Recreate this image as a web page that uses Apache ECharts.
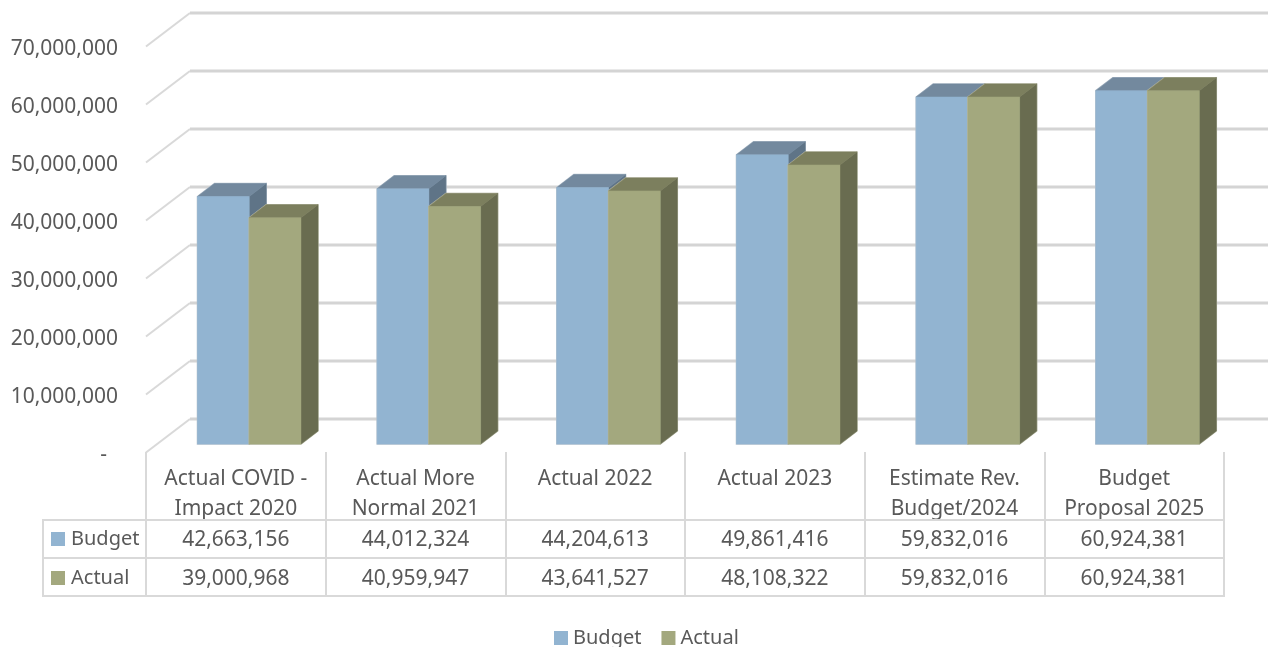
<!DOCTYPE html>
<html>
<head>
<meta charset="utf-8">
<style>html,body{margin:0;padding:0;background:#fff}#c{width:1268px;height:647px}</style>
<script src="https://cdn.jsdelivr.net/npm/echarts@6/dist/echarts.min.js"></script>
</head>
<body>
<div id="c"></div>
<script>
const categories = ['Actual COVID -\nImpact 2020', 'Actual More\nNormal 2021', 'Actual 2022', 'Actual 2023', 'Estimate Rev.\nBudget/2024', 'Budget\nProposal 2025'];
const budget = [42663156, 44012324, 44204613, 49861416, 59832016, 60924381];
const actual = [39000968, 40959947, 43641527, 48108322, 59832016, 60924381];
const yTicks = [0, 10000000, 20000000, 30000000, 40000000, 50000000, 60000000, 70000000];

const FONT = '"Noto Sans", sans-serif';
const TEXT = '#595959';
const LINE = '#d9d9d9';
const FS = 21;
const FS_KEY = 20;
const fmt = v => v.toLocaleString('en-US');

const rowY = { Budget: 539, Actual: 578 };
const looks = {
  Budget: { front: '#92b4d1', top: '#73899e', side: '#5f7487', edge: '#b4c1cd', from: -1 },
  Actual: { front: '#a3a87e', top: '#7c7f5e', side: '#696c50', edge: '#b6b8a4', from: 0 }
};

function barSeries(name, values) {
  const k = looks[name];
  return {
    name, type: 'custom', z: 3,
    itemStyle: { color: k.front },
    data: values.map((v, i) => [i, v]),
    encode: { x: 0, y: 1 },
    renderItem(params, api) {
      const i = api.value(0), v = api.value(1);
      const top = api.coord([i, v]), base = api.coord([i, 0]);
      const band = api.size([1, 0])[0];
      const w = band * 0.288, dx = 17, dy = 13, ox = 13.4, oy = -8;
      const x0 = top[0] + ox + k.from * w, x1 = x0 + w;
      const y0 = top[1] + oy, y1 = base[1] + oy;
      const poly = (points, fill) => ({
        type: 'polygon', shape: { points },
        style: { fill, stroke: fill, lineWidth: 0.5 }
      });
      return {
        type: 'group',
        children: [
          { type: 'polygon',
            shape: { points: [[x0, y0], [x0 + dx, y0 - dy], [x1 + dx, y0 - dy], [x1 + dx, y1 - dy], [x1, y1], [x0, y1]] },
            style: { fill: k.edge, stroke: k.edge, lineWidth: 1.5 } },
          poly([[x1, y0], [x1 + dx, y0 - dy], [x1 + dx, y1 - dy], [x1, y1]], k.side),
          poly([[x0, y0], [x0 + dx, y0 - dy], [x1 + dx, y0 - dy], [x1, y0]], k.top),
          poly([[x0, y0], [x1, y0], [x1, y1], [x0, y1]], k.front),
          { type: 'text', style: { x: base[0], y: rowY[name] + 1, text: fmt(v), fill: TEXT,
            font: FS + 'px ' + FONT, align: 'center', verticalAlign: 'middle' } }
        ]
      };
    }
  };
}

const wallSeries = {
  name: 'wall', type: 'custom', z: 1, silent: true,
  data: yTicks.map(v => [0, v]),
  encode: { x: 0, y: 1 },
  renderItem(params, api) {
    const p = api.coord([0, api.value(1)]);
    const left = p[0] - api.size([1, 0])[0] / 2;
    const wx = left + 44, wy = p[1] - 33;
    return {
      type: 'group',
      children: [
        { type: 'line', shape: { x1: left, y1: p[1] + 0.5, x2: wx, y2: wy },
          style: { stroke: '#d9d9d9', lineWidth: 2 } },
        { type: 'line', shape: { x1: wx, y1: wy, x2: 1268, y2: wy },
          style: { stroke: '#d4d4d4', lineWidth: 3 } }
      ]
    };
  }
};

const tableGraphics = [];
[520, 558, 596].forEach(y => tableGraphics.push({
  type: 'line', shape: { x1: 43, y1: y, x2: 1225, y2: y }, style: { stroke: LINE, lineWidth: 2 }, z: 2
}));
tableGraphics.push({ type: 'line', shape: { x1: 43, y1: 519, x2: 43, y2: 597 }, style: { stroke: LINE, lineWidth: 2 }, z: 2 });
['Budget', 'Actual'].forEach(name => {
  tableGraphics.push({ type: 'rect', shape: { x: 51, y: rowY[name] - 7, width: 14, height: 14 }, style: { fill: looks[name].front }, z: 2 });
  tableGraphics.push({ type: 'text', x: 71, y: rowY[name], style: { text: name, fill: TEXT, font: FS_KEY + 'px ' + FONT, verticalAlign: 'middle' }, z: 2 });
});

const chart = echarts.init(document.getElementById('c'), null, { renderer: 'canvas' });
chart.setOption({
  animation: false,
  backgroundColor: '#fff',
  textStyle: { fontFamily: FONT },
  grid: { left: 146, top: 46, width: 1078, height: 406, containLabel: false },
  xAxis: {
    type: 'category', data: categories,
    axisLine: { show: false },
    axisTick: { show: true, length: 144, alignWithLabel: false, lineStyle: { color: LINE, width: 2 } },
    axisLabel: { interval: 0, margin: 12, color: TEXT, fontSize: FS, fontFamily: FONT, lineHeight: 30, verticalAlign: 'top' },
    splitLine: { show: false }
  },
  yAxis: {
    type: 'value', min: 0, max: 70000000, interval: 10000000,
    axisLine: { show: false }, axisTick: { show: false }, splitLine: { show: false },
    axisLabel: {
      margin: 28, color: TEXT, fontSize: FS, fontFamily: FONT,
      verticalAlign: 'top', verticalAlignMinLabel: 'top', verticalAlignMaxLabel: 'top', lineHeight: 7,
      formatter: v => v === 0 ? '-\u00a0\u00a0' : fmt(v)
    }
  },
  legend: {
    data: ['Budget', 'Actual'], left: 549, top: 623,
    icon: 'rect', itemWidth: 14, itemHeight: 14, itemGap: 20,
    textStyle: { color: TEXT, fontSize: FS_KEY, fontFamily: FONT }
  },
  graphic: tableGraphics,
  series: [wallSeries, barSeries('Budget', budget), barSeries('Actual', actual)]
});
</script>
</body>
</html>
